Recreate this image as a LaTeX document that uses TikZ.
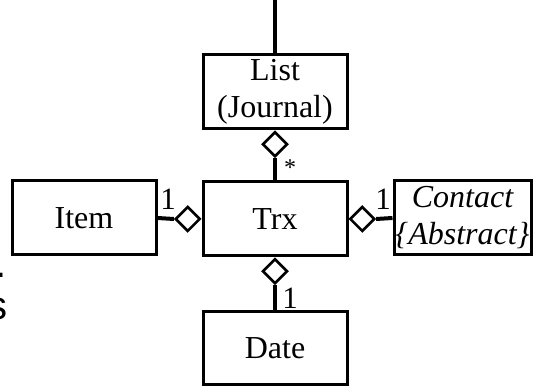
\documentclass[tikz,border=0pt]{standalone}
\usepackage{fontspec}
\setmainfont{Liberation Serif}
\setsansfont{Liberation Sans}
\usetikzlibrary{shapes.geometric}
\begin{document}
\begin{tikzpicture}[x=1pt,y=1pt,
  cls/.style={draw, line width=3pt, minimum width=144pt, minimum height=74pt,
    inner sep=0pt, align=center, font=\fontsize{32}{37}\selectfont},
  agg/.style={draw, line width=2.6pt, diamond, aspect=1, minimum size=25pt,
    inner sep=0pt, fill=white},
  link/.style={line width=4pt},
  mult/.style={font=\fontsize{31}{34}\selectfont, inner sep=0pt}]
\useasboundingbox (0,0) rectangle (533,387);

% classes
\node[cls] (list) at (275,295) {List\\(Journal)};
\node[cls] (trx) at (275,168) {Trx};
\node[cls] (item) at (84,169) {Item};
\node[cls, minimum width=137pt, font=\fontsize{32}{37}\itshape\selectfont]
  (contact) at (462.5,169) {Contact\\\{Abstract\}};
\node[cls, minimum height=73pt] (date) at (275,38.5) {Date};

% association leaving the top
\coordinate (top) at (275,387);
\draw[link] (top) -- (list.north);

% aggregation diamonds
\node[agg, anchor=north] (dlist) at (list.south) {};
\node[agg, anchor=east] (ditem) at (trx.west) {};
\node[agg, anchor=west] (dcont) at (trx.east) {};
\node[agg, anchor=north] (ddate) at (trx.south) {};

\draw[link] (dlist.south) -- (trx.north);
\draw[link] (ditem.west) -- (item.east);
\draw[link] (dcont.east) -- (contact.west);
\draw[link] (ddate.south) -- (date.north);

% multiplicities
\node[mult, font=\fontsize{24}{26}\selectfont] (m1) at (290,219) {*};
\node[mult] (m2) at (168,188) {1};
\node[mult] (m3) at (383,188) {1};
\node[mult] (m4) at (290,89) {1};

% text running in from the left
\node[font=\sffamily\fontsize{40}{42}\selectfont, inner sep=0pt, anchor=base east] (t1) at (7,109) {.};
\node[font=\sffamily\fontsize{40}{42}\selectfont, inner sep=0pt, anchor=base east] (t2) at (7.5,67) {s};
\end{tikzpicture}
\end{document}
